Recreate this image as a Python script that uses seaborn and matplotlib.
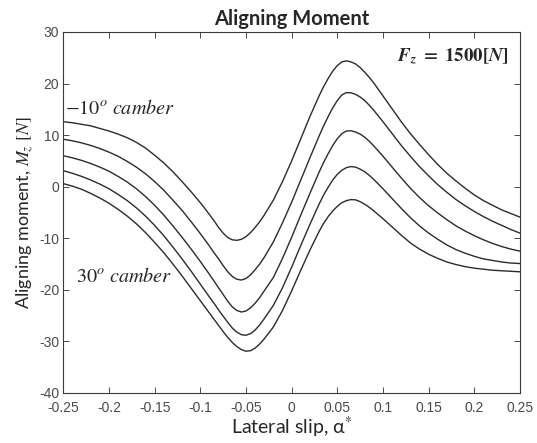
import numpy as np
import pandas as pd
import matplotlib
matplotlib.use("Agg")
import matplotlib.pyplot as plt
import seaborn as sns

# Lateral slip samples: coarse on the tails, finer around the extremes
slip = ([round(-0.25 + 0.01 * i, 3) for i in range(16)]
        + [round(-0.09 + 0.005 * i, 3) for i in range(13)]
        + [-0.02, -0.01, 0.0, 0.01, 0.02]
        + [round(0.03 + 0.005 * i, 3) for i in range(13)]
        + [round(0.10 + 0.01 * i, 3) for i in range(16)])

# Aligning moment [N] for each camber angle
mz_cam_m10 = [12.6, 12.4, 12.1, 11.8, 11.3, 10.8, 10.2, 9.5, 8.6, 7.5, 6.1, 4.6, 2.9, 1.0, -1.0, -3.1,
              -5.4, -6.6, -7.9, -9.0, -9.85, -10.3, -10.4, -10.2, -9.7, -8.9, -7.9, -6.8, -5.5,
              -2.6, 1.0, 5.0, 9.3, 13.6,
              17.6, 19.4, 21.0, 22.4, 23.5, 24.2, 24.4, 24.2, 23.8, 23.1, 22.2, 21.2, 20.1,
              17.6, 15.1, 12.6, 10.3, 8.2, 6.2, 4.3, 2.6, 1.1, -0.3, -1.6, -2.7, -3.6, -4.5, -5.2, -5.9]
mz_cam_0 = [9.2, 8.9, 8.5, 8.0, 7.4, 6.7, 5.9, 4.9, 3.8, 2.5, 1.0, -0.7, -2.6, -4.6, -6.8, -9.1,
            -11.5, -12.8, -14.0, -15.3, -16.5, -17.4, -17.95, -18.1, -17.8, -17.1, -16.1, -15.0, -13.7,
            -10.7, -7.0, -3.0, 1.3, 5.6,
            9.8, 11.8, 13.6, 15.3, 16.7, 17.8, 18.25, 18.2, 17.9, 17.4, 16.7, 15.8, 14.8,
            12.6, 10.3, 8.0, 5.9, 3.9, 2.1, 0.4, -1.1, -2.5, -3.7, -4.8, -5.8, -6.7, -7.5, -8.3, -9.0]
mz_cam_10 = [6.0, 5.6, 5.1, 4.5, 3.8, 3.0, 2.0, 0.9, -0.4, -1.9, -3.6, -5.5, -7.6, -9.8, -12.1, -14.5,
             -17.0, -18.3, -19.6, -20.9, -22.2, -23.3, -24.0, -24.3, -24.1, -23.5, -22.6, -21.5, -20.2,
             -17.6, -13.9, -9.8, -5.5, -1.3,
             2.8, 4.7, 6.4, 8.0, 9.3, 10.3, 10.8, 10.85, 10.6, 10.2, 9.6, 8.8, 7.9,
             5.9, 3.8, 1.7, -0.3, -2.1, -3.7, -5.1, -6.4, -7.6, -8.6, -9.5, -10.3, -11.0, -11.6, -12.1, -12.5]
mz_cam_20 = [3.1, 2.6, 2.0, 1.3, 0.5, -0.4, -1.5, -2.7, -4.1, -5.7, -7.5, -9.5, -11.7, -14.0, -16.4, -18.9,
             -21.4, -22.6, -23.9, -25.1, -26.3, -27.4, -28.2, -28.7, -28.8, -28.5, -27.8, -26.8, -25.6,
             -23.0, -19.6, -15.6, -11.4, -7.3,
             -3.4, -1.6, -0.1, 1.3, 2.4, 3.2, 3.7, 3.9, 3.8, 3.4, 2.9, 2.2, 1.4,
             -0.4, -2.3, -4.2, -6.0, -7.6, -9.0, -10.2, -11.3, -12.2, -12.9, -13.5, -14.0, -14.3, -14.6, -14.8, -14.9]
mz_cam_30 = [0.6, 0.1, -0.5, -1.3, -2.2, -3.2, -4.4, -5.7, -7.2, -8.9, -10.8, -12.8, -15.0, -17.3, -19.7, -22.1,
             -24.5, -25.7, -26.9, -28.1, -29.2, -30.2, -31.0, -31.6, -31.9, -31.8, -31.3, -30.5, -29.5,
             -27.2, -24.0, -20.2, -16.2, -12.3,
             -8.7, -7.1, -5.8, -4.7, -3.8, -3.1, -2.7, -2.5, -2.55, -2.9, -3.4, -4.0, -4.7,
             -6.2, -7.8, -9.4, -10.9, -12.1, -13.1, -13.9, -14.6, -15.1, -15.5, -15.8, -16.0, -16.2, -16.3, -16.4, -16.5]

cambers = [-10, 0, 10, 20, 30]
series = [mz_cam_m10, mz_cam_0, mz_cam_10, mz_cam_20, mz_cam_30]

df = pd.concat(
    [pd.DataFrame({"slip": slip, "mz": vals, "camber": cam})
     for cam, vals in zip(cambers, series)],
    ignore_index=True,
)

sns.set_style("white")
plt.rcParams["mathtext.fontset"] = "stix"
plt.rcParams["axes.unicode_minus"] = False
plt.rcParams["font.family"] = ["Lato", "DejaVu Sans"]

fig = plt.figure(figsize=(5.37, 4.43), dpi=100)
ax = fig.add_axes([0.1179, 0.1129, 0.8504, 0.8149])

sns.lineplot(data=df, x="slip", y="mz", hue="camber", units="camber",
             estimator=None, palette=["#2b2b2b"] * 5, linewidth=1.0,
             legend=False, ax=ax)

ax.set_xlim(-0.25, 0.25)
ax.set_ylim(-40, 30)
xticks = [-0.25, -0.2, -0.15, -0.1, -0.05, 0, 0.05, 0.1, 0.15, 0.2, 0.25]
xtick_labels = ["-0.25", "-0.2", "-0.15", "-0.1", "-0.05", "0", "0.05",
                "0.1", "0.15", "0.2", "0.25"]
yticks = [-40, -30, -20, -10, 0, 10, 20, 30]
ax.set_xticks(xticks)
ax.set_xticklabels(xtick_labels)
ax.set_yticks(yticks)
ax.set_yticklabels([str(v) for v in yticks])

for lab in ax.get_xticklabels() + ax.get_yticklabels():
    lab.set_fontfamily("Liberation Sans")
    lab.set_fontsize(10)
    lab.set_color("#4a4a4a")

ax.tick_params(direction="in", length=4, width=0.7, color="#4a4a4a",
               top=True, right=True, bottom=True, left=True)
ax.tick_params(axis="x", pad=6)
ax.tick_params(axis="y", pad=3)
for sp in ax.spines.values():
    sp.set_color("#3a3a3a")
    sp.set_linewidth(0.8)

ax.set_title("Aligning Moment", fontsize=14.5, fontweight="bold", pad=5)
ax.set_xlabel(r"Lateral slip, α$^{*}$", fontsize=14, labelpad=0)
ax.set_ylabel(r"Aligning moment, $M_z\ [N]$", fontsize=13, labelpad=2)

ax.text(-0.2485, 15.3, r"$-10^o\ camber$", fontsize=14.5, ha="left", va="center")
ax.text(-0.236, -17.3, r"$30^o\ camber$", fontsize=14.5, ha="left", va="center")
ax.text(0.238, 25.3,
        r"$\mathbfit{F}_{\mathbfit{z}}\ \mathbf{=}\ \mathbf{1500[}\mathbfit{N}\mathbf{]}$",
        fontsize=13.5, ha="right", va="center")

fig.savefig("out.png", dpi=100)
